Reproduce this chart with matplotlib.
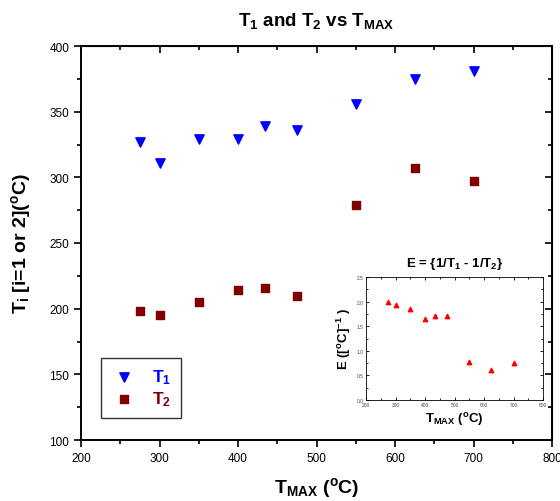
import numpy as np
import matplotlib
matplotlib.use("Agg")
import matplotlib.pyplot as plt
from matplotlib.ticker import MultipleLocator

plt.rcParams['font.family'] = ['Liberation Sans', 'DejaVu Sans']
plt.rcParams['mathtext.fontset'] = 'custom'
plt.rcParams['mathtext.rm'] = 'Liberation Sans:bold'
plt.rcParams['mathtext.it'] = 'Liberation Sans:bold'
plt.rcParams['mathtext.bf'] = 'Liberation Sans:bold'

# data
t_max = [275, 300, 350, 400, 435, 475, 550, 625, 700]
t1 = [327, 311, 329, 329, 339, 336, 356, 375, 381]
t2 = [198, 195, 205, 214, 216, 210, 279, 307, 297]
e_vals = [2.00, 1.93, 1.85, 1.65, 1.70, 1.71, 0.78, 0.60, 0.75]

blue = '#0000ff'
dred = '#800000'

fig = plt.figure(figsize=(5.6, 5.02), dpi=100)
W, H = 560, 502
ax = fig.add_axes([81 / W, 1 - 441 / H, (552 - 81) / W, (441 - 47) / H])

ax.scatter(t_max, t1, marker='v', s=45, color=blue, label=r'T$_1$', zorder=3)
ax.scatter(t_max, t2, marker='s', s=38, color=dred, label=r'T$_2$', zorder=3)

ax.set_xlim(200, 800)
ax.set_ylim(100, 400)
ax.xaxis.set_major_locator(MultipleLocator(100))
ax.xaxis.set_minor_locator(MultipleLocator(50))
ax.yaxis.set_major_locator(MultipleLocator(50))
ax.yaxis.set_minor_locator(MultipleLocator(25))
ax.tick_params(which='both', direction='out', labelsize=8.5, width=1.2)
ax.tick_params(which='major', length=5)
ax.tick_params(which='minor', length=3)
for s in ax.spines.values():
    s.set_linewidth(1.4)

# inward ticks on top and right
axt = ax.secondary_xaxis('top')
axt.xaxis.set_major_locator(MultipleLocator(100))
axt.xaxis.set_minor_locator(MultipleLocator(50))
axt.tick_params(which='both', direction='in', labeltop=False, width=1.2)
axt.tick_params(which='major', length=5)
axt.tick_params(which='minor', length=3)
axr = ax.secondary_yaxis('right')
axr.yaxis.set_major_locator(MultipleLocator(50))
axr.yaxis.set_minor_locator(MultipleLocator(25))
axr.tick_params(which='both', direction='in', labelright=False, width=1.2)
axr.tick_params(which='major', length=5)
axr.tick_params(which='minor', length=3)

ax.set_title(r'T$_1$ and T$_2$ vs T$_{MAX}$', fontsize=13.5, fontweight='bold', pad=15)
ax.set_xlabel(r'T$_{MAX}$ ($^o$C)', fontsize=14, fontweight='bold', labelpad=8)
ax.set_ylabel(r'T$_i$ [i=1 or 2]($^o$C)', fontsize=14, fontweight='bold', labelpad=12)

leg = ax.legend(loc='lower left', bbox_to_anchor=((101 - 81) / 471, (441 - 419) / 394),
                frameon=True, fancybox=False, edgecolor='black',
                prop={'weight': 'bold', 'size': 12.5},
                borderpad=0.55, handlelength=1.5, handletextpad=0.9,
                labelspacing=0.2, borderaxespad=0)
leg.get_frame().set_linewidth(1.0)
for txt, c in zip(leg.get_texts(), [blue, dred]):
    txt.set_color(c)

# inset
ins = fig.add_axes([366 / W, 1 - 401 / H, (543 - 366) / W, (401 - 278) / H])
ins.scatter(t_max, e_vals, marker='^', s=10, color='red', zorder=3)
ins.set_xlim(200, 800)
ins.set_ylim(0, 2.5)
ins.xaxis.set_major_locator(MultipleLocator(100))
ins.xaxis.set_minor_locator(MultipleLocator(50))
ins.yaxis.set_major_locator(MultipleLocator(0.5))
ins.yaxis.set_minor_locator(MultipleLocator(0.25))
ins.yaxis.set_major_formatter(matplotlib.ticker.FormatStrFormatter('%.1f'))
ins.tick_params(which='both', direction='in', labelsize=3.5, width=0.6, pad=1.5,
                top=True, right=True, labelcolor='#444444')
ins.tick_params(which='major', length=2)
ins.tick_params(which='minor', length=1.2)
for s in ins.spines.values():
    s.set_linewidth(0.6)
ins.set_title(r'E = {1/T$_1$ - 1/T$_2$}', fontsize=9.5, fontweight='bold', pad=8)
ins.set_xlabel(r'T$_{MAX}$ ($^o$C)', fontsize=9.5, fontweight='bold', labelpad=2)
ins.set_ylabel(r'E ([$^o$C]$^{-1}$ )', fontsize=9.5, fontweight='bold', labelpad=3)

fig.savefig('out.png', dpi=100)
